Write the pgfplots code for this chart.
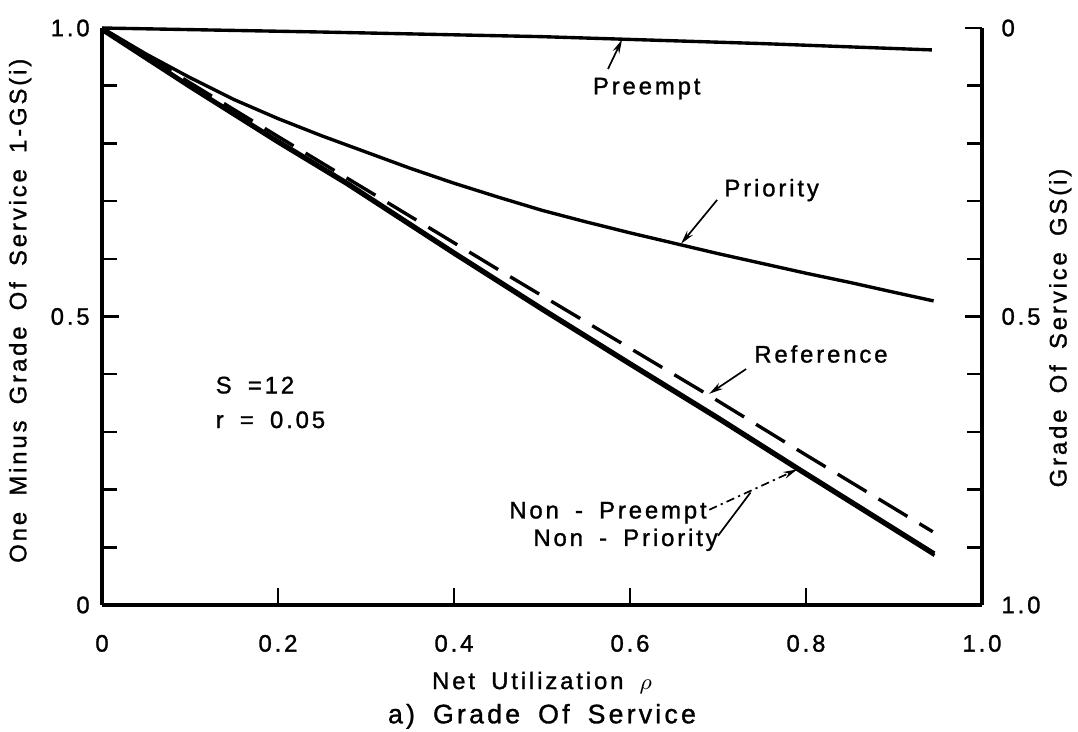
\documentclass[border=0pt]{standalone}
\usepackage{pgfplots}
\pgfplotsset{compat=1.18}
\usetikzlibrary{arrows.meta}
\usepackage{fontspec}
\setmainfont[LetterSpace=12,WordSpace=1.7,FakeBold=1.2]{Liberation Sans}

\begin{document}
\begin{tikzpicture}[font=\fontsize{8.5}{10}\selectfont]
\useasboundingbox (-1.275,-1.5875) rectangle (12.2,7.5625);

\pgfplotsset{
  gos/.style={
    at={(0,0)}, anchor=south west,
    scale only axis, width=11cm, height=7.2125cm,
    xmin=0, xmax=1, ymin=0, ymax=1,
    clip=false,
    axis line style={line width=1.15pt,-},
    tick align=inside,
    major tick length=0.21cm, minor tick length=0.19cm,
    every tick/.style={black,line width=0.9pt},
    ytick={0,0.5,1},
    minor ytick={0.1,0.2,0.3,0.4,0.6,0.7,0.8,0.9},
  }
}

% left axis: 1 - GS(i)
\begin{axis}[gos,
    axis x line*=bottom, axis y line*=left,
    xtick={0,0.2,0.4,0.6,0.8,1},
    xticklabels={0,0.2,0.4,0.6,0.8,1.0},
    xticklabel style={anchor=center,yshift=-0.48cm},
    yticklabels={0,0.5,1.0},
    yticklabel style={xshift=-0.03cm},
]
% preempt
\addplot[black, line width=1.2pt] coordinates {
  (0,1.0) (0.25,0.993) (0.5,0.985) (0.75,0.973) (0.943,0.962)
};
% priority
\addplot[black, line width=1.2pt] coordinates {
  (0,1.0) (0.05,0.955) (0.1,0.914) (0.15,0.876) (0.2,0.843) (0.25,0.813)
  (0.3,0.785) (0.35,0.757) (0.4,0.731) (0.45,0.707) (0.5,0.684)
  (0.55,0.664) (0.6,0.645) (0.65,0.627) (0.7,0.609) (0.75,0.592)
  (0.8,0.575) (0.85,0.559) (0.9,0.542) (0.945,0.527)
};
% non-preempt
\addplot[black, line width=1.2pt] coordinates {
  (0,1.0) (0.1,0.9) (0.2,0.805) (0.278,0.733) (0.4,0.612) (0.5,0.515)
  (0.6,0.42) (0.7,0.326) (0.792,0.237) (0.946,0.09)
};
% non-priority
\addplot[black, line width=1.2pt] coordinates {
  (0,0.996) (0.1,0.897) (0.2,0.801) (0.278,0.729) (0.4,0.608) (0.5,0.511)
  (0.6,0.416) (0.7,0.322) (0.792,0.233) (0.946,0.086)
};
% reference
\addplot[black, line width=1.2pt, dash pattern=on 12pt off 5pt] coordinates {
  (0,1.0) (0.1,0.905) (0.2,0.812) (0.3,0.72) (0.455,0.577) (0.6,0.445)
  (0.69,0.363) (0.8,0.26) (0.944,0.127)
};

\node at (axis cs:0.619,0.895) {Preempt};
\draw[line width=0.6pt,-{Stealth[length=5pt,width=2.5pt]}]
  (axis cs:0.575,0.929) -- (axis cs:0.591,0.980);
\node at (axis cs:0.761,0.719) {Priority};
\draw[line width=0.6pt,-{Stealth[length=5pt,width=2.5pt]}]
  (axis cs:0.699,0.702) -- (axis cs:0.658,0.626);
\node at (axis cs:0.817,0.435) {Reference};
\draw[line width=0.6pt,-{Stealth[length=5pt,width=2.5pt]}]
  (axis cs:0.732,0.409) -- (axis cs:0.690,0.366);
\node at (axis cs:0.575,0.16) {Non - Preempt};
\node at (axis cs:0.595,0.113) {Non - Priority};
\draw[line width=0.6pt,dash pattern=on 3pt off 1.5pt on 0.8pt off 1.5pt,
      -{Stealth[length=5pt,width=2.5pt]}]
  (axis cs:0.69,0.165) -- (axis cs:0.790,0.235);
\draw[line width=0.6pt] (axis cs:0.70,0.12) -- (axis cs:0.737,0.195);

\node[anchor=west] at (axis cs:0.118,0.381) {S =12};
\node[anchor=west] at (axis cs:0.118,0.321) {r = 0.05};

\node[rotate=90] at (axis description cs:-0.093,0.51)
  {One Minus Grade Of Service 1-GS(i)};
\node at (axis description cs:0.5,-0.1345) {Net Utilization $\rho$};
\node[font=\fontsize{9.5}{11}\selectfont] at (axis description cs:0.5,-0.193)
  {a) Grade Of Service};
\end{axis}

% right axis: GS(i)
\begin{axis}[gos,
    axis x line=none, axis y line*=right,
    yticklabels={1.0,0.5,0},
    yticklabel style={xshift=0.12cm},
]
\node[rotate=90] at (axis description cs:1.089,0.48)
  {Grade Of Service GS(i)};
\end{axis}
\end{tikzpicture}
\end{document}
